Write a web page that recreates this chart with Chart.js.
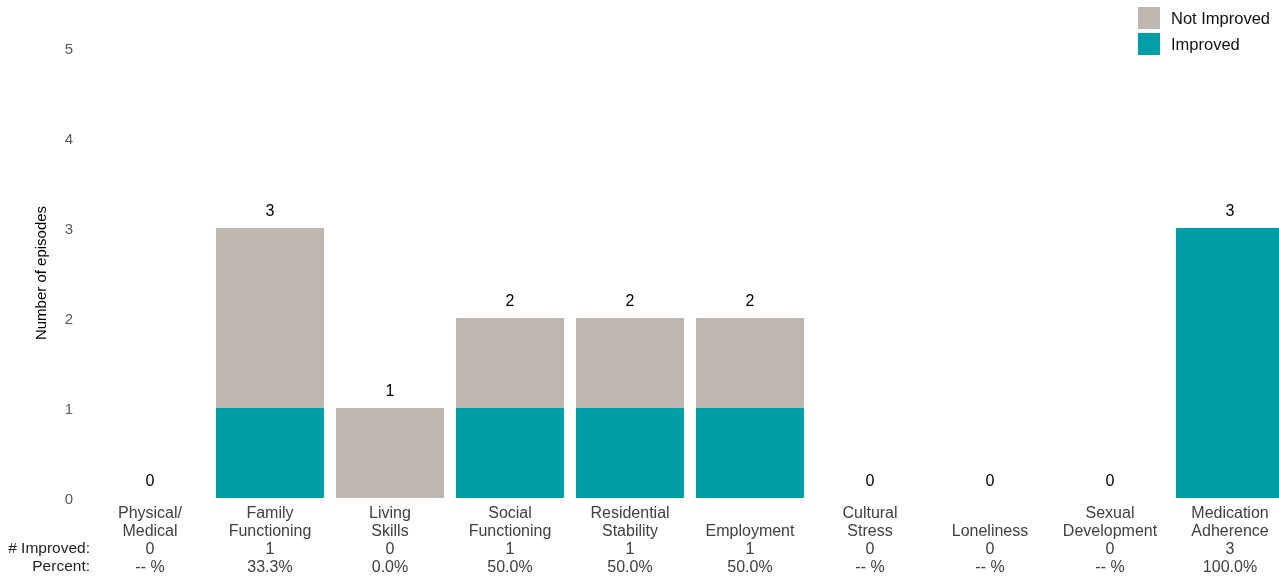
<!DOCTYPE html>
<html lang="en">
<head>
  <meta charset="UTF-8" />
  <title>Episodes improved by domain</title>
  <script src="https://cdn.jsdelivr.net/npm/chart.js"></script>
  <style>
    html, body {
      margin: 0;
      padding: 0;
      overflow: hidden;
      background: #fff;
      font-family: "Liberation Sans", Arial, sans-serif;
    }

    .wrap {
      position: relative;
      width: 1290px;
      height: 579px;
    }

    #legend {
      position: absolute;
      left: 1138px;
      top: 5px;
      font-size: 16.5px;
      color: #111;
    }

    #legend .item {
      display: flex;
      align-items: center;
      height: 26px;
    }

    #legend .box {
      width: 22px;
      height: 22px;
      margin-right: 11px;
    }
  </style>
</head>

<body>
  <div class="wrap">
    <canvas id="chart" width="1290" height="579"></canvas>
    <div id="legend"></div>
  </div>

  <script>
    // data
    const categories = [
      ['Physical/', 'Medical'],
      ['Family', 'Functioning'],
      ['Living', 'Skills'],
      ['Social', 'Functioning'],
      ['Residential', 'Stability'],
      ['', 'Employment'],
      ['Cultural', 'Stress'],
      ['', 'Loneliness'],
      ['Sexual', 'Development'],
      ['Medication', 'Adherence']
    ];
    const improved = [0, 1, 0, 1, 1, 1, 0, 0, 0, 3];
    const notImproved = [0, 2, 1, 1, 1, 1, 0, 0, 0, 0];
    const improvedLabels = ['0', '1', '0', '1', '1', '1', '0', '0', '0', '3'];
    const percentLabels = ['-- %', '33.3%', '0.0%', '50.0%', '50.0%', '50.0%', '-- %', '-- %', '-- %', '100.0%'];
    const yTicks = [0, 1, 2, 3, 4, 5];

    const TEAL = '#009EA6';
    const GREY = '#BFB6AF';
    const FONT = '"Liberation Sans", Arial, sans-serif';

    const labels = categories.map((c, i) => [c[0], c[1], improvedLabels[i], percentLabels[i]]);
    const totals = improved.map((v, i) => v + notImproved[i]);

    // html legend, stacked like the original
    const legendItems = [
      { text: 'Not Improved', color: GREY },
      { text: 'Improved', color: TEAL }
    ];
    document.getElementById('legend').innerHTML = legendItems.map(l =>
      `<div class="item"><span class="box" style="background:${l.color}"></span>${l.text}</div>`
    ).join('');

    // totals above the bars + row headers under the axis
    const extras = {
      id: 'extras',
      afterDraw(chart) {
        const ctx = chart.ctx;
        const x = chart.scales.x;
        const y = chart.scales.y;
        ctx.save();
        ctx.font = '16px ' + FONT;
        ctx.fillStyle = '#000';
        ctx.textAlign = 'center';
        ctx.textBaseline = 'middle';
        totals.forEach((t, i) => {
          ctx.fillText(String(t), x.getPixelForValue(i), y.getPixelForValue(t) - 16);
        });

        ctx.font = '15.5px ' + FONT;
        ctx.fillStyle = '#222';
        ctx.textAlign = 'right';
        const base = chart.chartArea.bottom + 6;
        ctx.fillText('# Improved:', chart.chartArea.left, base + 18 * 2 + 9);
        ctx.fillText('Percent:', chart.chartArea.left, base + 18 * 3 + 9);
        ctx.restore();
      }
    };

    new Chart(document.getElementById('chart'), {
      type: 'bar',
      data: {
        labels,
        datasets: [
          { label: 'Improved', data: improved, backgroundColor: TEAL },
          { label: 'Not Improved', data: notImproved, backgroundColor: GREY }
        ]
      },
      options: {
        responsive: false,
        animation: false,
        layout: { padding: { top: 48, right: 0, bottom: 0, left: 0 } },
        datasets: {
          bar: { barPercentage: 0.9, categoryPercentage: 1.0 }
        },
        plugins: {
          legend: { display: false },
          tooltip: { enabled: false }
        },
        scales: {
          x: {
            stacked: true,
            grid: { display: false },
            border: { display: false },
            afterFit(scale) { scale.height = 81; },
            ticks: {
              autoSkip: false,
              maxRotation: 0,
              padding: -1,
              color: '#404040',
              font: { family: FONT, size: 16, lineHeight: '18px' }
            }
          },
          y: {
            stacked: true,
            min: 0,
            max: 5,
            grid: { display: false },
            border: { display: false },
            afterFit(scale) { scale.width = 90; },
            afterBuildTicks(scale) { scale.ticks = yTicks.map(v => ({ value: v })); },
            title: {
              display: true,
              text: 'Number of episodes',
              color: '#000',
              padding: { top: 33, bottom: 0 },
              font: { family: FONT, size: 15, lineHeight: '18px' }
            },
            ticks: {
              padding: 9,
              labelOffset: 2,
              color: '#595959',
              font: { family: FONT, size: 15 }
            }
          }
        }
      },
      plugins: [extras]
    });
  </script>
</body>
</html>
